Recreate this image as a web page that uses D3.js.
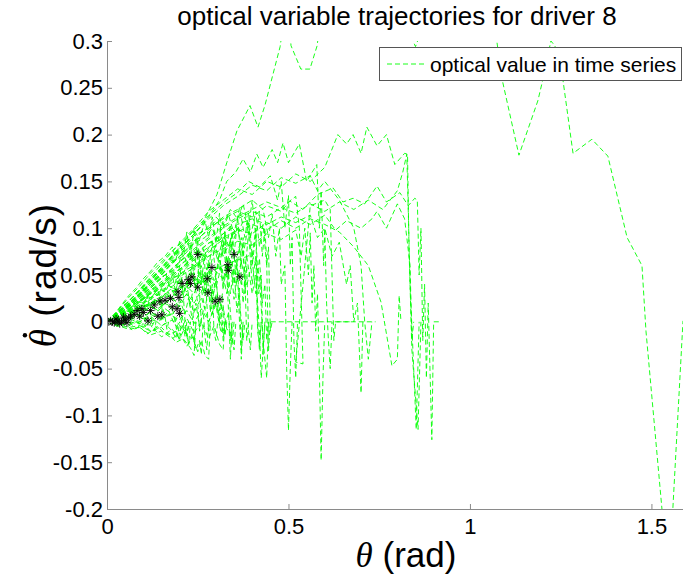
<!DOCTYPE html>
<html>
<head>
<meta charset="utf-8">
<script src="https://cdn.jsdelivr.net/npm/d3@7"></script>
<style>
  body { margin: 0; background: #fff; }
  text { font-family: "Liberation Sans", Arial, sans-serif; fill: #000; }
</style>
</head>
<body>
<svg id="chart" width="683" height="574"></svg>
<script>
// ---- data -------------------------------------------------------------
const chartTitle = "optical variable trajectories for driver 8";
const legendLabel = "optical value in time series";
const xTicks = [0, 0.5, 1, 1.5];
const yTicks = [-0.2, -0.15, -0.1, -0.05, 0, 0.05, 0.1, 0.15, 0.2, 0.25, 0.3];
const xDomain = [0, 1.587];
const yDomain = [-0.2, 0.3];

// short runs, [theta, theta-dot] pairs
const shortRuns = [
  [[0,0],[0.02,0.002],[0.04,0.004],[0.06,0.003],[0.08,0.008],[0.1,0.006],[0.11,-0.004],[0.115,0.0]],
  [[0,0],[0.02,-0.002],[0.04,0.002],[0.06,-0.004],[0.08,0.0],[0.1,-0.006],[0.12,-0.003],[0.13,-0.01],[0.135,0.0]],
  [[0,0],[0.03,0.005],[0.05,0.012],[0.07,0.01],[0.09,0.018],[0.11,0.016],[0.13,0.024],[0.15,0.02],[0.16,0.005],[0.165,-0.008],[0.17,0.0]],
  [[0,0],[0.02,0.004],[0.05,0.008],[0.08,0.014],[0.1,0.01],[0.12,0.018],[0.14,0.012],[0.16,0.02],[0.18,0.015],[0.19,-0.005],[0.195,-0.015],[0.2,0.0]],
  [[0,0],[0.03,-0.003],[0.06,-0.006],[0.09,-0.004],[0.12,-0.01],[0.15,-0.006],[0.17,-0.014],[0.19,-0.01],[0.2,-0.02],[0.205,0.0]],
  [[0,0],[0.02,0.006],[0.04,0.01],[0.06,0.016],[0.08,0.022],[0.1,0.028],[0.12,0.026],[0.14,0.034],[0.15,0.02],[0.155,0.0]],
  [[0,0],[0.03,0.001],[0.06,0.006],[0.09,0.004],[0.12,0.01],[0.15,0.004],[0.18,0.008],[0.2,-0.004],[0.22,-0.012],[0.23,0.0]],
  [[0,0],[0.02,0.008],[0.04,0.014],[0.06,0.022],[0.08,0.03],[0.1,0.036],[0.11,0.03],[0.12,0.01],[0.125,-0.004],[0.13,0.0]],
  [[0,0],[0.02,0.003],[0.04,0.009],[0.06,0.007],[0.08,0.015],[0.1,0.012],[0.12,0.022],[0.14,0.018],[0.16,0.03],[0.18,0.026],[0.2,0.038],[0.22,0.032],[0.24,0.044],[0.25,0.02],[0.255,-0.01],[0.26,0.0]],
  [[0,0],[0.02,0.0],[0.04,0.005],[0.06,0.001],[0.08,0.008],[0.1,0.003],[0.12,0.011],[0.14,0.006],[0.16,0.014],[0.18,0.008],[0.2,0.018],[0.21,0.0],[0.215,-0.016],[0.22,0.0]],
  [[0,0],[0.03,-0.005],[0.05,-0.002],[0.07,-0.009],[0.09,-0.005],[0.11,-0.013],[0.13,-0.008],[0.15,-0.016],[0.17,-0.012],[0.19,-0.022],[0.21,-0.018],[0.23,-0.028],[0.24,-0.036],[0.245,0.0]],
  [[0,0],[0.02,-0.001],[0.04,0.002],[0.06,-0.003],[0.08,0.001],[0.1,-0.005],[0.12,0.0],[0.14,-0.007],[0.16,-0.002],[0.18,-0.01],[0.19,-0.018],[0.195,0.0]],
  [[0,0],[0.02,0.006],[0.04,0.012],[0.06,0.02],[0.08,0.026],[0.1,0.034],[0.12,0.04],[0.14,0.046],[0.16,0.054],[0.17,0.04],[0.18,0.05],[0.19,0.03],[0.2,0.06],[0.21,0.03],[0.215,0.0],[0.22,-0.015],[0.225,0.0]],
  [[0,0],[0.02,0.008],[0.04,0.018],[0.06,0.028],[0.08,0.036],[0.1,0.046],[0.12,0.054],[0.14,0.064],[0.16,0.07],[0.18,0.08],[0.19,0.066],[0.2,0.086],[0.21,0.07],[0.22,0.096],[0.23,0.068],[0.24,0.1],[0.25,0.07],[0.255,0.03],[0.26,0.0]]
];

// medium runs ending between 0.22 and 0.53 rad
const mediumRuns = [
  [[0,0],[0.02,0.006],[0.04,0.01],[0.06,0.018],[0.08,0.016],[0.1,0.027],[0.12,0.024],[0.14,0.036],[0.16,0.032],[0.18,0.046],[0.2,0.04],[0.215,0.056],[0.225,0.038],[0.235,0.062],[0.245,0.034],[0.255,0.066],[0.265,0.03],[0.275,0.058],[0.285,0.01],[0.29,0.04],[0.295,-0.012],[0.3,-0.02],[0.305,0.0]],
  [[0,0],[0.03,0.01],[0.06,0.02],[0.09,0.03],[0.12,0.042],[0.15,0.05],[0.18,0.064],[0.21,0.07],[0.24,0.084],[0.27,0.09],[0.29,0.1],[0.305,0.084],[0.32,0.108],[0.33,0.08],[0.34,0.104],[0.35,0.07],[0.36,0.112],[0.37,0.06],[0.375,0.09],[0.38,0.03],[0.385,0.06],[0.39,-0.01],[0.395,-0.03],[0.4,0.0]],
  [[0,0],[0.02,0.002],[0.04,0.008],[0.06,0.004],[0.08,0.012],[0.1,0.008],[0.12,0.017],[0.14,0.011],[0.16,0.02],[0.18,0.013],[0.2,0.024],[0.215,0.008],[0.225,0.026],[0.235,0.002],[0.245,0.02],[0.255,-0.006],[0.265,0.012],[0.27,-0.016],[0.275,-0.03],[0.28,0.0]],
  [[0,0],[0.03,0.008],[0.06,0.016],[0.09,0.028],[0.12,0.036],[0.15,0.048],[0.18,0.054],[0.21,0.068],[0.24,0.074],[0.27,0.072],[0.29,0.086],[0.305,0.066],[0.32,0.09],[0.335,0.058],[0.345,0.096],[0.355,0.05],[0.365,0.08],[0.375,0.02],[0.38,0.05],[0.385,-0.02],[0.39,0.0]],
  [[0,0],[0.02,0.0],[0.04,-0.004],[0.06,0.0],[0.08,-0.007],[0.1,-0.002],[0.12,-0.01],[0.14,-0.005],[0.16,-0.013],[0.18,-0.008],[0.2,-0.018],[0.215,-0.006],[0.225,-0.024],[0.235,-0.012],[0.245,-0.03],[0.255,-0.02],[0.26,-0.035],[0.265,0.0]],
  [[0,0],[0.03,0.005],[0.06,0.012],[0.09,0.018],[0.12,0.024],[0.15,0.032],[0.18,0.038],[0.21,0.044],[0.24,0.052],[0.26,0.046],[0.28,0.06],[0.295,0.044],[0.31,0.066],[0.32,0.04],[0.33,0.07],[0.34,0.03],[0.35,0.058],[0.358,0.01],[0.365,0.036],[0.37,-0.04],[0.375,0.0]],
  [[0,0],[0.03,0.01],[0.06,0.022],[0.09,0.034],[0.12,0.046],[0.15,0.056],[0.18,0.07],[0.21,0.078],[0.24,0.092],[0.27,0.098],[0.3,0.112],[0.32,0.104],[0.34,0.12],[0.36,0.11],[0.375,0.126],[0.39,0.1],[0.4,0.13],[0.41,0.09],[0.42,0.118],[0.428,0.07],[0.435,0.1],[0.44,0.065],[0.443,0.0],[0.445,-0.031],[0.45,0.0]],
  [[0,0],[0.03,0.003],[0.06,0.008],[0.09,0.012],[0.12,0.019],[0.15,0.024],[0.18,0.03],[0.2,0.026],[0.22,0.038],[0.24,0.03],[0.255,0.046],[0.27,0.028],[0.28,0.05],[0.29,0.022],[0.3,0.044],[0.31,0.012],[0.318,0.03],[0.325,-0.015],[0.33,0.0]],
  [[0,0],[0.02,-0.002],[0.05,0.002],[0.08,-0.002],[0.11,0.004],[0.14,0.0],[0.17,0.008],[0.2,0.002],[0.22,0.012],[0.24,-0.002],[0.26,0.014],[0.28,0.0],[0.3,0.018],[0.31,-0.004],[0.32,0.016],[0.33,-0.008],[0.34,-0.01],[0.345,-0.025],[0.35,0.0]],
  [[0,0],[0.03,0.012],[0.06,0.026],[0.09,0.038],[0.12,0.052],[0.15,0.064],[0.18,0.076],[0.21,0.086],[0.24,0.098],[0.255,0.088],[0.27,0.108],[0.28,0.09],[0.29,0.112],[0.3,0.084],[0.31,0.116],[0.318,0.07],[0.325,0.096],[0.33,0.05],[0.335,0.01],[0.34,-0.02],[0.345,0.0]],
  [[0,0],[0.04,0.004],[0.08,0.012],[0.12,0.018],[0.16,0.026],[0.2,0.03],[0.24,0.04],[0.27,0.044],[0.3,0.054],[0.32,0.046],[0.34,0.06],[0.355,0.04],[0.37,0.064],[0.385,0.038],[0.4,0.066],[0.41,0.03],[0.42,0.068],[0.428,0.02],[0.435,0.04],[0.44,-0.02],[0.445,0.0]],
  [[0,0],[0.03,0.006],[0.06,0.012],[0.09,0.016],[0.12,0.026],[0.15,0.03],[0.17,0.04],[0.185,0.03],[0.2,0.046],[0.21,0.028],[0.22,0.044],[0.228,0.016],[0.235,0.03],[0.24,-0.022],[0.245,0.0]],
  [[0,0],[0.03,-0.004],[0.06,-0.008],[0.09,-0.006],[0.12,-0.014],[0.15,-0.01],[0.18,-0.018],[0.2,-0.012],[0.22,-0.026],[0.235,-0.016],[0.25,-0.032],[0.26,-0.02],[0.27,-0.036],[0.28,-0.04],[0.285,0.0]],
  [[0,0],[0.04,0.014],[0.08,0.03],[0.12,0.046],[0.16,0.062],[0.2,0.08],[0.24,0.098],[0.27,0.11],[0.3,0.12],[0.33,0.13],[0.36,0.138],[0.39,0.15],[0.42,0.144],[0.45,0.156],[0.47,0.13],[0.48,0.15],[0.49,0.1],[0.5,0.135],[0.505,0.06],[0.51,0.09],[0.515,-0.02],[0.52,-0.06],[0.525,0.0]],
  [[0,0],[0.02,0.004],[0.05,0.01],[0.08,0.018],[0.11,0.028],[0.14,0.034],[0.17,0.046],[0.2,0.05],[0.23,0.062],[0.25,0.058],[0.27,0.074],[0.285,0.06],[0.3,0.082],[0.31,0.056],[0.32,0.086],[0.33,0.05],[0.34,0.09],[0.35,0.04],[0.358,0.066],[0.365,0.0],[0.37,-0.03],[0.375,0.0]],
  [[0,0],[0.03,0.002],[0.06,0.006],[0.09,0.0],[0.12,0.008],[0.15,0.002],[0.17,0.012],[0.185,-0.002],[0.2,0.01],[0.21,-0.008],[0.22,-0.012],[0.225,-0.024],[0.23,0.0]],
  [[0,0],[0.04,0.008],[0.08,0.02],[0.12,0.03],[0.16,0.044],[0.2,0.056],[0.24,0.07],[0.28,0.084],[0.31,0.09],[0.34,0.102],[0.36,0.094],[0.38,0.112],[0.395,0.09],[0.41,0.118],[0.42,0.08],[0.43,0.104],[0.44,0.06],[0.445,0.08],[0.45,-0.01],[0.455,0.0]],
  [[0,0],[0.03,0.006],[0.06,0.016],[0.09,0.022],[0.12,0.034],[0.15,0.04],[0.18,0.052],[0.21,0.058],[0.235,0.07],[0.25,0.06],[0.265,0.078],[0.28,0.056],[0.29,0.084],[0.3,0.05],[0.31,0.074],[0.32,0.034],[0.33,0.06],[0.34,0.01],[0.345,-0.015],[0.35,-0.03],[0.355,0.0]],
  [[0,0],[0.03,0.0],[0.06,0.004],[0.09,-0.002],[0.12,0.006],[0.15,-0.004],[0.18,0.002],[0.2,-0.01],[0.22,0.004],[0.24,-0.012],[0.26,0.0],[0.28,-0.018],[0.295,-0.004],[0.31,-0.024],[0.32,-0.03],[0.325,0.0]],
  [[0,0],[0.04,0.01],[0.08,0.024],[0.12,0.036],[0.16,0.05],[0.2,0.06],[0.24,0.074],[0.27,0.07],[0.3,0.082],[0.32,0.092],[0.34,0.078],[0.36,0.1],[0.375,0.07],[0.39,0.106],[0.4,0.06],[0.41,0.094],[0.418,0.03],[0.425,0.05],[0.43,-0.035],[0.435,0.0]],
  [[0,0],[0.02,0.005],[0.04,0.013],[0.06,0.011],[0.08,0.022],[0.1,0.02],[0.12,0.032],[0.14,0.028],[0.16,0.042],[0.18,0.036],[0.2,0.05],[0.215,0.034],[0.23,0.056],[0.245,0.036],[0.26,0.06],[0.27,0.03],[0.28,0.064],[0.29,0.02],[0.3,0.05],[0.31,0.0],[0.315,0.02],[0.32,-0.02],[0.325,0.0]],
  [[0,0],[0.02,0.007],[0.04,0.016],[0.06,0.022],[0.08,0.03],[0.1,0.038],[0.12,0.044],[0.14,0.052],[0.16,0.058],[0.18,0.066],[0.195,0.058],[0.21,0.078],[0.22,0.06],[0.23,0.082],[0.24,0.05],[0.25,0.088],[0.26,0.04],[0.268,0.07],[0.275,0.02],[0.28,-0.01],[0.285,0.0]],
  [[0,0],[0.02,0.002],[0.04,0.007],[0.06,0.012],[0.08,0.01],[0.1,0.018],[0.12,0.024],[0.14,0.022],[0.16,0.03],[0.18,0.036],[0.2,0.034],[0.22,0.042],[0.24,0.048],[0.26,0.04],[0.28,0.054],[0.3,0.036],[0.315,0.06],[0.33,0.03],[0.34,0.066],[0.35,0.024],[0.36,0.05],[0.37,0.0],[0.375,-0.02],[0.38,0.0]],
  [[0,0],[0.02,0.004],[0.04,0.01],[0.06,0.018],[0.08,0.026],[0.1,0.034],[0.12,0.042],[0.14,0.048],[0.16,0.058],[0.18,0.064],[0.2,0.074],[0.22,0.082],[0.24,0.086],[0.26,0.096],[0.28,0.1],[0.3,0.108],[0.32,0.1],[0.335,0.114],[0.35,0.094],[0.365,0.122],[0.38,0.09],[0.39,0.116],[0.4,0.07],[0.41,0.1],[0.415,0.0],[0.42,-0.03],[0.425,0.0]],
  [[0,0],[0.02,0.003],[0.04,0.008],[0.06,0.014],[0.08,0.018],[0.1,0.024],[0.12,0.03],[0.14,0.034],[0.16,0.04],[0.18,0.046],[0.2,0.05],[0.22,0.056],[0.24,0.06],[0.26,0.066],[0.28,0.07],[0.3,0.076],[0.32,0.07],[0.34,0.086],[0.355,0.064],[0.37,0.09],[0.38,0.05],[0.39,0.096],[0.4,0.04],[0.41,0.07],[0.415,-0.01],[0.42,-0.025],[0.425,0.0]],
  [[0,0],[0.02,0.001],[0.04,0.004],[0.06,0.008],[0.08,0.006],[0.1,0.012],[0.12,0.016],[0.14,0.014],[0.16,0.02],[0.18,0.024],[0.2,0.02],[0.22,0.03],[0.24,0.02],[0.26,0.034],[0.27,0.014],[0.28,0.036],[0.29,0.008],[0.3,0.03],[0.31,-0.004],[0.315,-0.012],[0.32,0.0]],
  [[0,0],[0.04,0.006],[0.08,0.014],[0.12,0.02],[0.16,0.03],[0.2,0.036],[0.24,0.044],[0.28,0.05],[0.31,0.06],[0.33,0.048],[0.35,0.068],[0.37,0.04],[0.385,0.07],[0.4,0.03],[0.41,0.05],[0.42,-0.01],[0.425,-0.06],[0.43,-0.03],[0.435,0.0]],
  [[0,0],[0.03,0.004],[0.06,0.01],[0.09,0.014],[0.12,0.02],[0.15,0.018],[0.18,0.026],[0.2,0.016],[0.22,0.03],[0.24,0.01],[0.26,0.026],[0.28,0.0],[0.3,0.02],[0.32,-0.01],[0.335,0.01],[0.34,-0.04],[0.345,0.0]]
];

// long runs reaching 0.5 - 0.92 rad
const longRuns = [
  [[0,0],[0.04,0.012],[0.08,0.026],[0.12,0.042],[0.16,0.058],[0.2,0.076],[0.24,0.094],[0.28,0.112],[0.31,0.13],[0.33,0.15],[0.355,0.16],[0.375,0.174],[0.395,0.16],[0.413,0.179],[0.43,0.165],[0.455,0.184],[0.47,0.17],[0.485,0.191],[0.5,0.17],[0.53,0.19],[0.55,0.15],[0.578,0.168],[0.585,0.1],[0.59,0.14],[0.597,0.06],[0.6,0.1],[0.605,0.02],[0.61,-0.02],[0.615,-0.05],[0.62,0.0]],
  [[0,0],[0.04,0.014],[0.08,0.03],[0.12,0.048],[0.16,0.066],[0.2,0.084],[0.24,0.1],[0.28,0.118],[0.32,0.13],[0.36,0.142],[0.4,0.136],[0.44,0.15],[0.48,0.144],[0.52,0.158],[0.56,0.15],[0.6,0.165],[0.636,0.2],[0.66,0.19],[0.678,0.2],[0.7,0.18],[0.716,0.208],[0.744,0.188],[0.77,0.2],[0.793,0.168],[0.82,0.18],[0.828,0.179],[0.832,0.08],[0.84,-0.03],[0.857,-0.115],[0.865,0.0]],
  [[0,0],[0.04,0.01],[0.08,0.024],[0.12,0.04],[0.16,0.054],[0.2,0.07],[0.24,0.084],[0.28,0.1],[0.32,0.11],[0.36,0.118],[0.4,0.112],[0.44,0.124],[0.48,0.118],[0.504,0.129],[0.54,0.12],[0.58,0.136],[0.623,0.143],[0.65,0.128],[0.678,0.132],[0.71,0.126],[0.744,0.145],[0.77,0.128],[0.807,0.138],[0.83,0.124],[0.848,0.132],[0.855,0.13],[0.86,0.05],[0.865,0.1],[0.87,-0.02],[0.875,0.04],[0.88,-0.06],[0.885,0.02],[0.895,-0.126],[0.9,0.0],[0.92,0.0]],
  [[0,0],[0.04,0.008],[0.08,0.02],[0.12,0.032],[0.16,0.044],[0.2,0.056],[0.24,0.068],[0.28,0.08],[0.32,0.09],[0.36,0.098],[0.4,0.094],[0.44,0.106],[0.48,0.1],[0.52,0.112],[0.56,0.104],[0.6,0.114],[0.63,0.098],[0.66,0.108],[0.7,0.1],[0.73,0.11],[0.744,0.118],[0.77,0.1],[0.8,0.126],[0.82,0.11],[0.835,0.06],[0.84,-0.02],[0.845,0.0]],
  [[0,0],[0.04,0.006],[0.08,0.016],[0.12,0.026],[0.16,0.036],[0.2,0.048],[0.24,0.058],[0.28,0.07],[0.32,0.078],[0.36,0.086],[0.4,0.082],[0.44,0.094],[0.48,0.088],[0.52,0.098],[0.535,0.07],[0.545,0.1],[0.555,0.05],[0.56,0.095],[0.565,0.02],[0.57,0.06],[0.575,-0.01],[0.58,0.03],[0.585,-0.05],[0.59,-0.148],[0.595,-0.06],[0.6,0.0]],
  [[0,0],[0.04,0.012],[0.08,0.026],[0.12,0.04],[0.16,0.056],[0.2,0.07],[0.24,0.086],[0.28,0.098],[0.32,0.112],[0.36,0.12],[0.4,0.13],[0.43,0.12],[0.445,0.09],[0.455,0.115],[0.465,0.07],[0.475,0.1],[0.48,0.04],[0.49,0.06],[0.495,-0.05],[0.5,-0.116],[0.505,-0.05],[0.51,0.0]],
  [[0,0],[0.04,0.004],[0.08,0.012],[0.12,0.02],[0.16,0.028],[0.2,0.036],[0.24,0.044],[0.28,0.052],[0.32,0.06],[0.36,0.066],[0.4,0.072],[0.42,0.05],[0.43,-0.02],[0.44,-0.06],[0.445,0.0],[0.6,0.0],[0.74,0.0]],
  [[0,0],[0.04,0.01],[0.08,0.022],[0.12,0.034],[0.16,0.046],[0.2,0.06],[0.24,0.072],[0.28,0.084],[0.32,0.094],[0.36,0.104],[0.4,0.11],[0.44,0.104],[0.48,0.112],[0.52,0.106],[0.56,0.114],[0.58,0.09],[0.6,0.1],[0.62,0.07],[0.64,0.085],[0.66,0.04],[0.67,0.06],[0.68,0.0],[0.69,0.02],[0.7,-0.076],[0.705,0.0]],
  [[0,0],[0.04,0.008],[0.08,0.018],[0.12,0.03],[0.16,0.042],[0.2,0.054],[0.24,0.066],[0.28,0.076],[0.32,0.088],[0.36,0.096],[0.4,0.104],[0.44,0.098],[0.48,0.108],[0.52,0.1],[0.56,0.11],[0.6,0.104],[0.64,0.096],[0.68,0.08],[0.72,0.06],[0.755,0.021],[0.785,-0.047],[0.8,-0.04],[0.805,0.028],[0.81,0.0]],
  [[0,0],[0.04,0.01],[0.08,0.022],[0.12,0.036],[0.16,0.05],[0.2,0.064],[0.24,0.078],[0.28,0.09],[0.32,0.102],[0.36,0.112],[0.4,0.12],[0.44,0.128],[0.48,0.122],[0.52,0.134],[0.53,0.1],[0.54,-0.045],[0.52,-0.043],[0.545,0.06],[0.56,0.124],[0.6,0.13],[0.615,0.12],[0.62,0.05],[0.625,-0.02],[0.63,0.0],[0.67,0.0]],
  [[0,0],[0.04,0.012],[0.08,0.028],[0.12,0.044],[0.16,0.06],[0.2,0.078],[0.24,0.094],[0.28,0.11],[0.32,0.124],[0.36,0.134],[0.4,0.146],[0.44,0.14],[0.48,0.154],[0.52,0.148],[0.56,0.156],[0.58,0.14],[0.6,0.15],[0.64,0.13],[0.68,0.1],[0.7,0.06],[0.71,0.0],[0.72,-0.04],[0.73,0.0]],
  [[0,0],[0.04,0.01],[0.08,0.024],[0.12,0.038],[0.16,0.05],[0.2,0.064],[0.24,0.076],[0.28,0.088],[0.32,0.1],[0.36,0.11],[0.4,0.118],[0.44,0.112],[0.48,0.122],[0.52,0.116],[0.56,0.126],[0.6,0.118],[0.64,0.128],[0.68,0.12],[0.72,0.13],[0.76,0.12],[0.8,0.14],[0.815,0.16],[0.826,0.179],[0.83,0.12],[0.835,0.04],[0.845,-0.05],[0.852,-0.115],[0.86,0.0]]
];

// the one run that leaves the top of the frame and sweeps out to 1.59 rad
const wideRun = [
  [0,0],[0.05,0.015],[0.1,0.033],[0.165,0.065],[0.256,0.1],[0.303,0.136],[0.33,0.17],[0.358,0.204],[0.394,0.231],[0.416,0.208],
  [0.435,0.231],[0.477,0.294],[0.49,0.33],[0.5,0.33],[0.507,0.295],[0.534,0.27],[0.559,0.27],[0.579,0.295],[0.59,0.33],
  [0.7,0.36],[0.82,0.32],[0.85,0.294],[0.875,0.32],[0.95,0.33],[0.985,0.302],[0.995,0.33],[1.06,0.32],[1.074,0.3],
  [1.088,0.26],[1.135,0.178],[1.187,0.236],[1.201,0.259],[1.223,0.3],[1.234,0.295],[1.256,0.259],[1.284,0.18],[1.336,0.195],
  [1.38,0.177],[1.433,0.09],[1.474,0.06],[1.485,-0.01],[1.529,-0.2],[1.545,-0.24],[1.559,-0.2],[1.587,0.001]
];

// asterisk markers
const markers = [
  [0.25,0.072],[0.35,0.072],[0.289,0.058],[0.333,0.061],[0.334,0.055],[0.366,0.048],[0.234,0.048],[0.224,0.045],
  [0.276,0.046],[0.207,0.041],[0.23,0.041],[0.25,0.037],[0.196,0.032],[0.278,0.031],[0.298,0.022],[0.311,0.024],
  [0.198,0.026],[0.146,0.022],[0.16,0.023],[0.193,0.014],[0.2,0.009],[0.151,0.0075],[0.113,0.001],[0.096,0.014],
  [0.083,0.012],[0.075,0.008],[0.06,0.004],[0.05,0.002],[0.04,0.0],[0.03,0.001],[0.02,-0.001],[0.015,0.0],
  [0.01,0.001],[0.005,0.0],[0.025,0.003],[0.035,-0.002],[0.045,0.005],[0.055,-0.001],[0.065,0.006],[0.09,0.006],
  [0.1,0.01],[0.12,0.012],[0.13,0.018],[0.175,0.025],[0.18,0.016],[0.14,0.006]
];

// ---- drawing ----------------------------------------------------------
const svg = d3.select("#chart");
const plot = { left: 107, right: 683, top: 41, bottom: 509 };

const x = d3.scaleLinear().domain(xDomain).range([plot.left, plot.right]);
const y = d3.scaleLinear().domain(yDomain).range([plot.bottom, plot.top]);

svg.append("defs").append("clipPath").attr("id", "plot-clip")
  .append("rect")
  .attr("x", plot.left).attr("y", plot.top)
  .attr("width", plot.right - plot.left).attr("height", plot.bottom - plot.top);

const line = d3.line().x(d => x(d[0])).y(d => y(d[1]));
const allRuns = [...shortRuns, ...mediumRuns, ...longRuns, wideRun];

const marks = svg.append("g").attr("clip-path", "url(#plot-clip)");
marks.selectAll("path.run")
  .data(allRuns)
  .join("path")
  .attr("class", "run")
  .attr("d", line)
  .attr("fill", "none")
  .attr("stroke", "#00ff00")
  .attr("stroke-width", 0.9)
  .attr("stroke-dasharray", "5,3");

// asterisk: plus + cross
const r = 4, rd = r * 0.72;
const asteriskPath = `M${-r},0L${r},0M0,${-r}L0,${r}M${-rd},${-rd}L${rd},${rd}M${-rd},${rd}L${rd},${-rd}`;
marks.selectAll("path.marker")
  .data(markers)
  .join("path")
  .attr("class", "marker")
  .attr("transform", d => `translate(${x(d[0])},${y(d[1])})`)
  .attr("d", asteriskPath)
  .attr("fill", "none")
  .attr("stroke", "#000")
  .attr("stroke-width", 0.9);

// axes (ticks pointing inward)
const fmt = v => String(+v.toFixed(2));
const axisColor = "#8a8a8a";

const yAxis = svg.append("g")
  .attr("transform", `translate(${plot.left},0)`)
  .call(d3.axisLeft(y).tickValues(yTicks).tickFormat(fmt).tickSize(-5).tickSizeOuter(0).tickPadding(4));
const xAxis = svg.append("g")
  .attr("transform", `translate(0,${plot.bottom})`)
  .call(d3.axisBottom(x).tickValues(xTicks).tickFormat(fmt).tickSize(-5).tickSizeOuter(0).tickPadding(9));

[yAxis, xAxis].forEach(g => {
  g.select(".domain").attr("stroke", axisColor).attr("stroke-width", 1);
  g.selectAll(".tick line").attr("stroke", axisColor);
  g.selectAll(".tick text")
    .attr("fill", "#000")
    .style("font-family", '"Liberation Sans", Arial, sans-serif')
    .style("font-size", "22px");
});
xAxis.selectAll(".tick text").attr("dy", "0.71em");

// title
svg.append("text")
  .attr("x", 397).attr("y", 25)
  .attr("text-anchor", "middle")
  .style("font-size", "26px")
  .text(chartTitle);

// x label
const xl = svg.append("text")
  .attr("x", 406).attr("y", 567)
  .attr("text-anchor", "middle")
  .style("font-size", "35px");
xl.append("tspan").style("font-family", '"Liberation Serif", serif').style("font-style", "italic").text("θ");
xl.append("tspan").text(" (rad)");

// y label: theta with a dot over it, then units
const ylFont = 37;
const ylG = svg.append("g").attr("transform", "translate(56,275) rotate(-90)");
const yl = ylG.append("text")
  .style("font-size", ylFont + "px")
  .style("letter-spacing", "1px");
const thetaSpan = yl.append("tspan")
  .style("font-family", '"Liberation Serif", serif')
  .style("font-style", "italic")
  .text("θ");
yl.append("tspan").text(" (rad/s)");
const total = yl.node().getComputedTextLength();
yl.attr("x", -total / 2);
const thetaW = yl.node().getSubStringLength(0, 1);
ylG.append("circle")
  .attr("cx", -total / 2 + thetaW * 0.62)
  .attr("cy", -ylFont * 0.84)
  .attr("r", 2.2)
  .attr("fill", "#000");

// legend
const lg = svg.append("g");
lg.append("rect")
  .attr("x", 379.5).attr("y", 47.5).attr("width", 302).attr("height", 33)
  .attr("fill", "#fff").attr("stroke", "#555").attr("stroke-width", 1);
lg.append("line")
  .attr("x1", 387).attr("x2", 427).attr("y1", 64).attr("y2", 64)
  .attr("stroke", "#00ff00").attr("stroke-width", 0.9).attr("stroke-dasharray", "5,3");
lg.append("text")
  .attr("x", 430).attr("y", 72)
  .style("font-size", "21px")
  .text(legendLabel);
</script>
</body>
</html>
